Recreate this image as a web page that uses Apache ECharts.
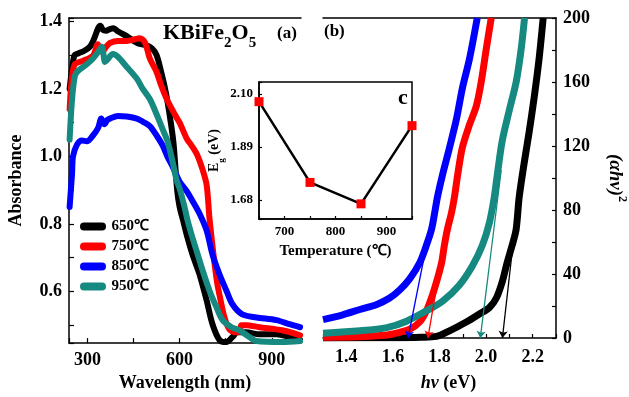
<!DOCTYPE html>
<html>
<head>
<meta charset="utf-8">
<script src="https://cdn.jsdelivr.net/npm/echarts@6.0.0/dist/echarts.min.js"></script>
<style>
  html, body { margin: 0; padding: 0; background: #fff; }
  #chart { width: 629px; height: 397px; }
</style>
</head>
<body>
<div id="chart"></div>
<script>
// series names / colours
const samples = ['650℃', '750℃', '850℃', '950℃']
const colors = ['#000000', '#ff0000', '#0000ff', '#168a80']

// (a) absorbance vs wavelength
const wl650 = [242,250,258,270,290,308,320,335,342,350,360,375,385,400,430,450,470,490,510,525,540,555,568,580,592,600,610,623,642,665,688,707,730,752,772,788,817,860,915,957,992]
const abs650 = [1.20,1.26,1.30,1.305,1.313,1.325,1.345,1.38,1.387,1.375,1.372,1.378,1.38,1.37,1.355,1.342,1.333,1.33,1.32,1.30,1.25,1.19,1.12,1.04,0.90,0.85,0.815,0.768,0.709,0.65,0.573,0.503,0.456,0.45,0.465,0.479,0.479,0.473,0.473,0.465,0.456]
const wl750 = [242,249,259,285,318,334,347,363,373,399,428,454,470,487,503,525,540,558,575,590,600,623,639,658,675,688,697,704,714,723,736,746,762,785,795,801,817,860,934,992]
const abs750 = [1.14,1.229,1.273,1.283,1.298,1.332,1.309,1.327,1.336,1.342,1.342,1.347,1.35,1.338,1.29,1.25,1.21,1.17,1.14,1.115,1.1,1.053,1.032,1.003,0.96,0.915,0.818,0.759,0.68,0.621,0.562,0.523,0.488,0.479,0.482,0.5,0.5,0.494,0.485,0.47]
const wl850 = [242,246,250,253,266,282,298,318,335,345,355,365,373,399,428,461,480,503,525,545,560,577,600,623,642,665,688,707,730,752,772,804,850,915,957,992]
const abs850 = [0.85,0.90,0.95,1.0,1.035,1.047,1.045,1.062,1.085,1.112,1.095,1.108,1.112,1.12,1.118,1.112,1.103,1.09,1.062,1.032,1.0,0.97,0.925,0.897,0.868,0.83,0.78,0.709,0.65,0.603,0.562,0.532,0.523,0.515,0.503,0.494]
const wl950 = [242,250,259,269,298,318,335,347,357,363,383,399,428,461,480,503,525,545,561,577,590,600,616,626,639,655,675,697,720,740,769,795,827,850,934,992]
const abs950 = [1.05,1.17,1.238,1.253,1.273,1.29,1.31,1.325,1.28,1.285,1.303,1.295,1.265,1.23,1.2,1.17,1.125,1.08,1.044,0.985,0.93,0.905,0.85,0.81,0.768,0.721,0.662,0.603,0.553,0.515,0.494,0.485,0.465,0.453,0.45,0.453]

// (b) (ahv)^2 vs hv
const ev650 = [1.30,1.60,1.72,1.787,1.843,1.915,1.971,2.014,2.044,2.069,2.09,2.112,2.129,2.142,2.163,2.185,2.206,2.227,2.245]
const ahv650 = [0,0.2,0.5,1,4.5,10,15,19,25,35,47,58,68,88,109,129,150,174,200]
const ev750 = [1.30,1.45,1.55,1.60,1.672,1.715,1.744,1.77,1.791,1.809,1.821,1.834,1.851,1.864,1.878,1.898,1.928,1.958,1.979,2.0,2.022]
const ahv750 = [0.5,0.8,1.5,2.5,5.5,10,17,27,37,47,58,68,78,88,102,119,133,145,160,180,200]
const ev850 = [1.30,1.385,1.458,1.531,1.586,1.629,1.672,1.715,1.744,1.766,1.779,1.791,1.813,1.843,1.873,1.898,1.928,1.962]
const ahv850 = [11.5,14.5,17.8,21,25,30,37,47,58,68,78,88,102,119,137,156,174,200]
const ev950 = [1.30,1.458,1.574,1.659,1.744,1.813,1.885,1.941,1.984,2.014,2.035,2.048,2.069,2.099,2.129,2.15,2.165]
const ahv950 = [3,4.5,6.5,10.5,17,23,33,45,58,72,88,102,123,142,160,180,200]

// tangent lines: upper end, foot is the band gap
const tanTopEv = [2.115, 1.795, 1.74, 2.065]
const tanTopAhv = [58, 38, 55, 105]

// (c) band gap vs temperature
const temps = [650, 750, 850, 950]
const egValues = [2.07, 1.75, 1.665, 1.975]

const FONT = "'Liberation Serif', 'Times New Roman', serif"
const zip = (xs, ys) => xs.map((x, i) => [x, ys[i]])
const near = (v, step) => Math.abs(v / step - Math.round(v / step)) < 1e-6

const axisLine = { lineStyle: { color: '#000', width: 1.5 } }
const tick = (len) => ({ show: true, inside: true, length: len, lineStyle: { color: '#000', width: 1.2 } })
const lbl = (size, margin, fmt) => ({
  color: '#000', fontFamily: FONT, fontWeight: 'bold', fontSize: size, margin: margin, formatter: fmt
})
const topLine = (grid, min, max) => ({
  type: 'value', gridIndex: grid, position: 'top', min: min, max: max,
  axisLine: axisLine, axisTick: { show: false }, axisLabel: { show: false }, splitLine: { show: false }
})

let chart = echarts.init(document.getElementById('chart'))
let absData = [zip(wl650, abs650), zip(wl750, abs750), zip(wl850, abs850), zip(wl950, abs950)]
let taucData = [zip(ev650, ahv650), zip(ev750, ahv750), zip(ev850, ahv850), zip(ev950, ahv950)]

let series = []
samples.forEach((name, i) => {
  series.push({
    name: name, type: 'line', xAxisIndex: 0, yAxisIndex: 0, data: absData[i],
    showSymbol: false, smooth: 0.3, color: colors[i],
    lineStyle: { width: 6, color: colors[i], cap: 'round', join: 'round' }
  })
})
samples.forEach((name, i) => {
  series.push({
    name: name, type: 'line', xAxisIndex: 2, yAxisIndex: 1, data: taucData[i],
    showSymbol: false, smooth: 0.3, color: colors[i],
    lineStyle: { width: 7, color: colors[i], join: 'round' }
  })
})
series.push({
  type: 'lines', coordinateSystem: 'cartesian2d', xAxisIndex: 2, yAxisIndex: 1,
  symbol: ['none', 'arrow'], symbolSize: 7, z: 5,
  data: egValues.map((eg, i) => ({
    coords: [[tanTopEv[i], tanTopAhv[i]], [eg, 0]],
    lineStyle: { color: colors[i], width: 1.3, opacity: 1 }
  }))
})
series.push({
  type: 'line', xAxisIndex: 4, yAxisIndex: 2, data: zip(temps, egValues),
  symbol: 'rect', symbolSize: 9, showSymbol: true,
  lineStyle: { color: '#000', width: 2.5 },
  itemStyle: { color: '#ff0000' }
})

let option = {
  backgroundColor: '#fff',
  animation: false,
  legend: {
    data: samples, orient: 'vertical', left: 80, top: 219, itemGap: 5,
    itemWidth: 27, itemHeight: 8, padding: 0,
    icon: 'path://M4,0 L22,0 A4,4 0 0 1 22,8 L4,8 A4,4 0 0 1 4,0 Z',
    textStyle: { fontFamily: FONT, fontWeight: 'bold', fontSize: 15, color: '#000' }
  },
  grid: [
    { left: 69, top: 18, width: 232, height: 328 },
    { left: 323, top: 18, width: 233, height: 325 },
    { left: 259, top: 82, width: 153, height: 137, show: true, borderColor: '#000', borderWidth: 1.5 }
  ],
  xAxis: [
    {
      type: 'value', gridIndex: 0, min: 240, max: 995, minInterval: 150, maxInterval: 150,
      axisLine: axisLine, axisTick: tick(5), splitLine: { show: false },
      axisLabel: lbl(18, 8, v => (near(v, 300) && v >= 300 && v <= 900) ? v : ''),
      name: 'Wavelength (nm)', nameLocation: 'middle', nameGap: 28,
      nameTextStyle: { fontFamily: FONT, fontWeight: 'bold', fontSize: 18, color: '#000' }
    },
    topLine(0, 240, 995),
    {
      type: 'value', gridIndex: 1, min: 1.3, max: 2.3, interval: 0.1,
      axisLine: axisLine, axisTick: tick(4), splitLine: { show: false },
      axisLabel: lbl(18, 10, v => (near(v, 0.2) && v > 1.35 && v < 2.25) ? v.toFixed(1) : ''),
      name: '{i|hν} (eV)', nameLocation: 'middle', nameGap: 36,
      nameTextStyle: {
        fontFamily: FONT, fontWeight: 'bold', fontSize: 18, color: '#000', padding: [0, 0, 0, 18],
        rich: { i: { fontFamily: FONT, fontWeight: 'bold', fontStyle: 'italic', fontSize: 18, color: '#000' } }
      }
    },
    topLine(1, 1.3, 2.3),
    {
      type: 'value', gridIndex: 2, min: 650, max: 950, interval: 50,
      axisLine: axisLine, axisTick: tick(3), splitLine: { show: false },
      axisLabel: lbl(13, 6, v => (near(v, 100) && v > 650 && v < 950) ? v : ''),
      name: 'Temperature (℃)', nameLocation: 'middle', nameGap: 25,
      nameTextStyle: { fontFamily: FONT, fontWeight: 'bold', fontSize: 15, color: '#000' }
    }
  ],
  yAxis: [
    {
      type: 'value', gridIndex: 0, min: 0.447, max: 1.41, minInterval: 0.1, maxInterval: 0.1,
      axisLine: axisLine, axisTick: tick(5), splitLine: { show: false },
      axisLabel: lbl(18, 7, v => (near(v, 0.2) && v > 0.5) ? v.toFixed(1) : ''),
      name: 'Absorbance', nameLocation: 'middle', nameGap: 44,
      nameTextStyle: { fontFamily: FONT, fontWeight: 'bold', fontSize: 18, color: '#000' }
    },
    {
      type: 'value', gridIndex: 1, position: 'right', min: 0, max: 200, interval: 20,
      axisLine: axisLine, axisTick: tick(4), splitLine: { show: false },
      axisLabel: lbl(18, 7, v => near(v, 40) ? v : ''),
      name: '{i|(αhν)}{s|2}', nameLocation: 'middle', nameGap: 46, nameRotate: -90,
      nameTextStyle: {
        rich: {
          i: { fontFamily: FONT, fontWeight: 'bold', fontStyle: 'italic', fontSize: 19, color: '#000', lineHeight: 26 },
          s: { fontFamily: FONT, fontWeight: 'bold', fontSize: 12, color: '#000', verticalAlign: 'top', lineHeight: 26 }
        }
      }
    },
    {
      type: 'value', gridIndex: 2, min: 1.605, max: 2.148, minInterval: 0.21, maxInterval: 0.21,
      axisLine: axisLine, axisTick: tick(3), splitLine: { show: false },
      axisLabel: lbl(13, 6, v => (near(v, 0.21) && v > 1.61 && v < 2.14) ? v.toFixed(2) : ''),
      name: '{a|E}{s|g}{a| (eV)}', nameLocation: 'middle', nameGap: 31,
      nameTextStyle: {
        rich: {
          a: { fontFamily: FONT, fontWeight: 'bold', fontSize: 14, color: '#000', lineHeight: 20 },
          s: { fontFamily: FONT, fontWeight: 'bold', fontSize: 9, color: '#000', verticalAlign: 'bottom', lineHeight: 24 }
        }
      }
    }
  ],
  graphic: [
    {
      type: 'text', left: 163, top: 22,
      style: {
        text: '{m|KBiFe}{s|2}{m|O}{s|5}', fill: '#000',
        rich: {
          m: { fontFamily: FONT, fontWeight: 'bold', fontSize: 22, fill: '#000' },
          s: { fontFamily: FONT, fontWeight: 'bold', fontSize: 15, fill: '#000', verticalAlign: 'bottom', lineHeight: 36 }
        }
      }
    },
    { type: 'text', left: 277, top: 25, style: { text: '(a)', fontFamily: FONT, fontWeight: 'bold', fontSize: 17, fill: '#000' } },
    { type: 'text', left: 324, top: 23, style: { text: '(b)', fontFamily: FONT, fontWeight: 'bold', fontSize: 17, fill: '#000' } },
    { type: 'text', left: 398, top: 87, style: { text: 'c', fontFamily: FONT, fontWeight: 'bold', fontSize: 22, fill: '#000' } }
  ],
  series: series
}
chart.setOption(option)
</script>
</body>
</html>
